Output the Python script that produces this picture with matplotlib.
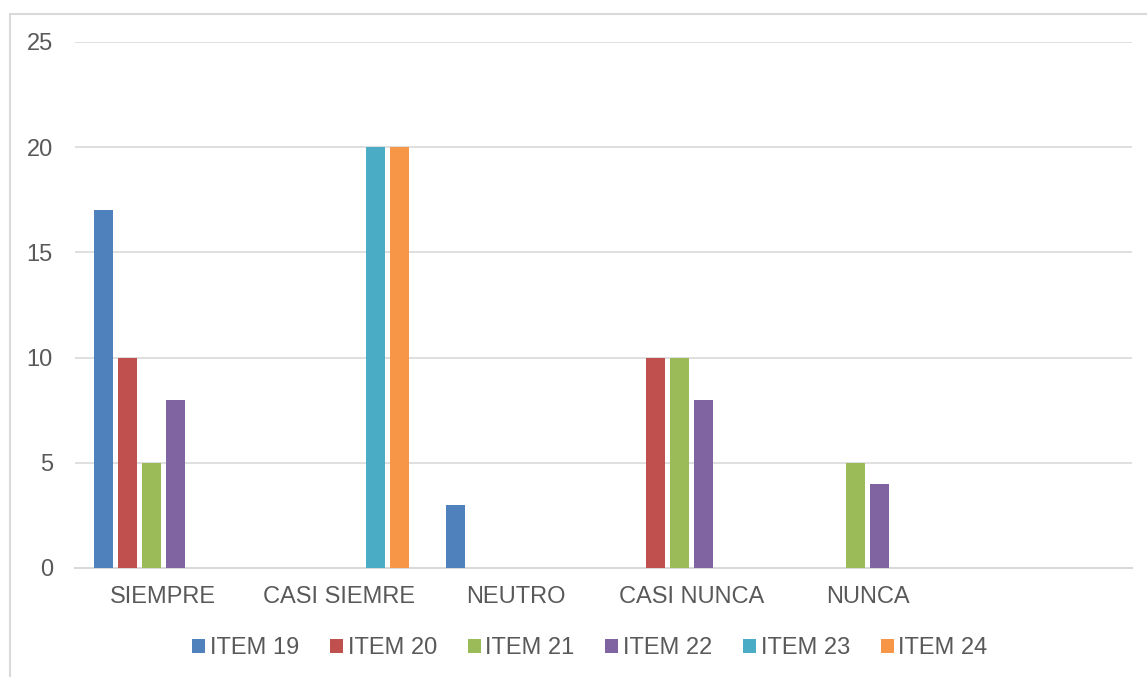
import numpy as np
import matplotlib.pyplot as plt
from matplotlib.patches import Rectangle

plt.rcParams['font.family'] = ['Liberation Sans', 'DejaVu Sans']

# Data
categories = ['SIEMPRE', 'CASI SIEMRE', 'NEUTRO', 'CASI NUNCA', 'NUNCA', '']
series = ['ITEM 19', 'ITEM 20', 'ITEM 21', 'ITEM 22', 'ITEM 23', 'ITEM 24']
item19 = [17, 0, 3, 0, 0, 0]
item20 = [10, 0, 0, 10, 0, 0]
item21 = [5, 0, 0, 10, 5, 0]
item22 = [8, 0, 0, 8, 4, 0]
item23 = [0, 20, 0, 0, 0, 0]
item24 = [0, 20, 0, 0, 0, 0]
values = [item19, item20, item21, item22, item23, item24]
colors = ['#4F81BD', '#C0504D', '#9BBB59', '#8064A2', '#4BACC6', '#F79646']

W, H = 1147, 677
fig = plt.figure(figsize=(W / 100, H / 100), dpi=100)

# chart border
fig.patches.append(Rectangle((10 / W, -0.01), 1.1, 1 - 14 / H + 0.01,
                             transform=fig.transFigure, fill=False,
                             edgecolor='#D9D9D9', linewidth=1.5))

ax = fig.add_axes([75 / W, (H - 568) / H, (1132 - 75) / W, (568 - 42) / H])

x = np.arange(len(categories)) + 0.5
slot = 0.136
width = 0.108
for j, (name, vals, c) in enumerate(zip(series, values, colors)):
    ax.bar(x + (j - 2.5) * slot, vals, width, color=c, label=name, zorder=3)

ax.set_xlim(0, len(categories))
ax.set_ylim(0, 25)
ax.set_yticks(range(0, 26, 5))
ax.set_xticks(x)
ax.set_xticklabels(categories)
ax.tick_params(axis='both', length=0, labelsize=17, labelcolor='#595959')
ax.tick_params(axis='x', pad=13)
ax.tick_params(axis='y', pad=16)
ax.grid(axis='y', color='#D9D9D9', linewidth=1.2, zorder=0)
for s in ['top', 'right', 'left']:
    ax.spines[s].set_visible(False)
ax.spines['bottom'].set_color('#D9D9D9')
ax.spines['bottom'].set_linewidth(1.5)

fig.legend(loc='center', bbox_to_anchor=(590 / W, 1 - 648 / H), ncol=6,
           frameon=False, fontsize=17, handlelength=0.55, handleheight=0.55,
           handletextpad=0.2, columnspacing=1.3, labelcolor='#595959')

fig.savefig('out.png', dpi=100)
